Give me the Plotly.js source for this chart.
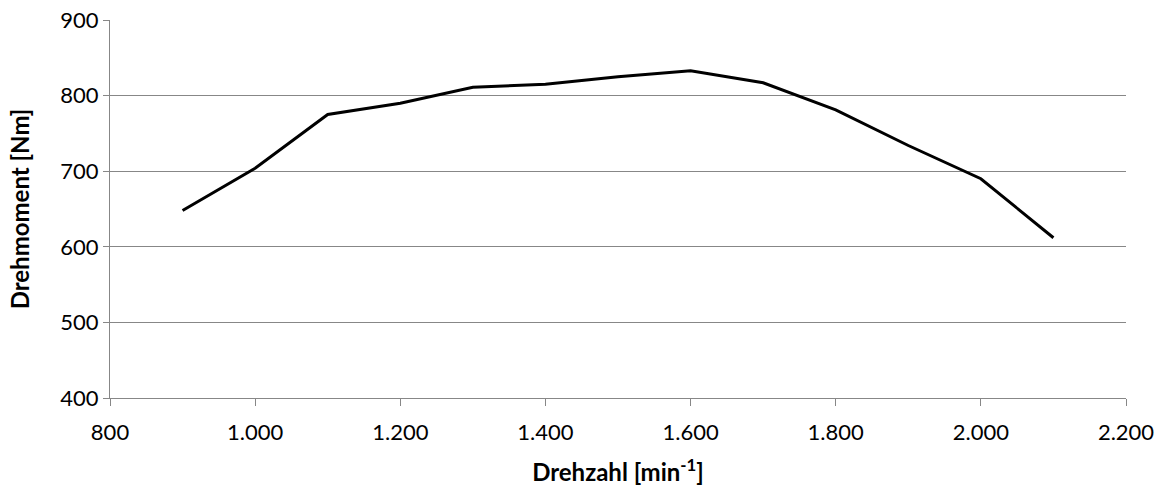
<!DOCTYPE html>
<html>
<head>
<meta charset="utf-8">
<script src="https://cdn.plot.ly/plotly-3.0.1.min.js"></script>
<style>html,body{margin:0;padding:0;background:#fff;}#chart{width:1163px;height:486px;}</style>
</head>
<body>
<div id="chart"></div>
<script>
// Drehzahl [min^-1]
const drehzahl = [900, 1000, 1100, 1200, 1300, 1400, 1500, 1600, 1700, 1800, 1900, 2000, 2100];
// Drehmoment [Nm]
const drehmoment = [648, 704, 775, 790, 811, 815, 825, 833, 817, 781, 734, 690, 612];
const xTickVals = [800, 1000, 1200, 1400, 1600, 1800, 2000, 2200];
const xTickText = ['800', '1.000', '1.200', '1.400', '1.600', '1.800', '2.000', '2.200'];
const yTickVals = [400, 500, 600, 700, 800, 900];

const FONT = 'Lato, "Open Sans", sans-serif';
const GRID = '#878787';

const trace = {
  x: drehzahl,
  y: drehmoment,
  type: 'scatter',
  mode: 'lines',
  line: {color: '#000000', width: 3},
  hoverinfo: 'x+y'
};

const layout = {
  width: 1163,
  height: 486,
  margin: {l: 110, r: 37, t: 20, b: 88, pad: 0},
  paper_bgcolor: '#ffffff',
  plot_bgcolor: '#ffffff',
  showlegend: false,
  font: {family: FONT, color: '#000000', size: 22},
  xaxis: {
    range: [800, 2200],
    tickvals: xTickVals,
    ticktext: xTickText,
    showgrid: false,
    zeroline: false,
    showline: true,
    linecolor: GRID,
    linewidth: 1,
    ticks: 'outside',
    ticklen: 7,
    tickcolor: GRID,
    ticklabelstandoff: 8,
    tickfont: {family: FONT, size: 22, color: '#000'},
    title: {text: '<b>Drehzahl [min<sup>-1</sup>]</b>', font: {family: FONT, size: 24, color: '#000'}, standoff: 25},
    automargin: false,
    fixedrange: true
  },
  yaxis: {
    range: [400, 900],
    tickvals: yTickVals,
    showgrid: true,
    gridcolor: GRID,
    gridwidth: 1,
    zeroline: false,
    showline: true,
    linecolor: GRID,
    linewidth: 1,
    ticks: 'outside',
    ticklen: 6,
    tickcolor: GRID,
    tickfont: {family: FONT, size: 22, color: '#000'},
    title: {text: '<b>Drehmoment [Nm]</b>', font: {family: FONT, size: 24, color: '#000'}, standoff: 23},
    automargin: false,
    fixedrange: true
  }
};

Plotly.newPlot('chart', [trace], layout, {displayModeBar: false, staticPlot: true});
</script>
</body>
</html>
